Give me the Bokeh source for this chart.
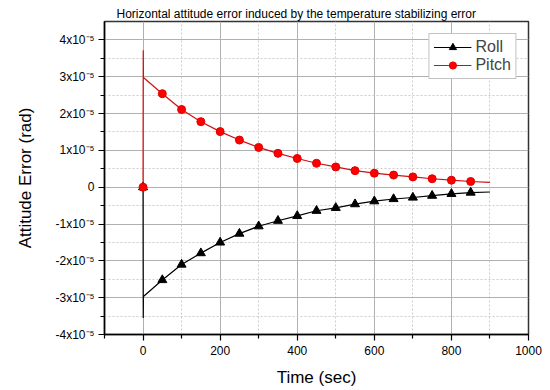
from bokeh.plotting import figure
from bokeh.models import FixedTicker, Range1d, Legend, LegendItem
from bokeh.embed import file_html
from bokeh.resources import INLINE

# ---- data (attitude error in units of 1e-5 rad) ----
marker_time = [0, 50, 100, 150, 200, 250, 300, 350, 400, 450, 500, 550, 600, 650, 700, 750, 800, 850]
pitch_markers = [0, 2.54, 2.11, 1.78, 1.51, 1.28, 1.08, 0.92, 0.78, 0.65, 0.55, 0.45, 0.38, 0.33, 0.28, 0.23, 0.19, 0.155]
roll_markers = [0, -2.52, -2.10, -1.79, -1.50, -1.26, -1.06, -0.91, -0.78, -0.64, -0.56, -0.46, -0.38, -0.32, -0.28, -0.23, -0.18, -0.145]

line_time = [0, 0.5, 1] + marker_time[1:] + [900]
pitch_line = [0, 3.72, 2.98] + pitch_markers[1:] + [0.13]
roll_line = [0, -3.55, -2.97] + roll_markers[1:] + [-0.13]

x_major = [0, 200, 400, 600, 800, 1000]
x_minor = [-100, 100, 300, 500, 700, 900]
y_major = [-4, -3, -2, -1, 0, 1, 2, 3, 4]
y_minor = [-3.5, -2.5, -1.5, -0.5, 0.5, 1.5, 2.5, 3.5]
y_labels = {-4: "-4x10\u207b\u2075", -3: "-3x10\u207b\u2075", -2: "-2x10\u207b\u2075",
            -1: "-1x10\u207b\u2075", 0: "0", 1: "1x10\u207b\u2075", 2: "2x10\u207b\u2075",
            3: "3x10\u207b\u2075", 4: "4x10\u207b\u2075"}

FONT = "Liberation Sans"

p = figure(frame_width=424, frame_height=313, min_border_left=104, min_border_right=14,
           min_border_top=21, min_border_bottom=48,
           x_range=Range1d(-100, 1000), y_range=Range1d(-4, 4.5),
           output_backend="svg", toolbar_location=None,
           title="Horizontal attitude error induced by the temperature stabilizing error")

p.title.text_font = FONT
p.title.text_font_size = "12px"
p.title.text_font_style = "normal"
p.title.text_color = "black"
p.title.align = "left"
p.title.offset = 12
p.title.standoff = 2

p.outline_line_color = "#333333"
p.outline_line_width = 1.5
p.background_fill_color = "white"
p.border_fill_color = "white"

# axes
p.xaxis.ticker = FixedTicker(ticks=x_major, minor_ticks=x_minor)
p.yaxis.ticker = FixedTicker(ticks=y_major, minor_ticks=y_minor)
p.yaxis.major_label_overrides = y_labels
for ax in (p.xaxis[0], p.yaxis[0]):
    ax.axis_line_color = "black"
    ax.axis_line_width = 1.5
    ax.major_tick_line_color = "black"
    ax.minor_tick_line_color = "black"
    ax.major_tick_line_width = 1.2
    ax.minor_tick_line_width = 1.2
    ax.major_tick_in = 0
    ax.minor_tick_in = 0
    ax.major_tick_out = 6
    ax.minor_tick_out = 4
    ax.major_label_text_font = FONT
    ax.major_label_text_font_size = "12px"
    ax.major_label_text_color = "black"
    ax.axis_label_text_font = FONT
    ax.axis_label_text_font_size = "17px"
    ax.axis_label_text_font_style = "normal"
    ax.axis_label_text_color = "black"
p.xaxis.axis_label = "Time (sec)"
p.yaxis.axis_label = "Attitude Error (rad)"
p.xaxis.major_label_standoff = 5
p.yaxis.major_label_standoff = 4
p.xaxis.axis_label_standoff = 10
p.yaxis.axis_label_standoff = 18

# grids
for g in (p.xgrid[0], p.ygrid[0]):
    g.grid_line_color = "#b0b0b0"
    g.grid_line_width = 1
    g.minor_grid_line_color = "#cccccc"
    g.minor_grid_line_dash = "2 2"
    g.minor_grid_line_width = 1

# series
roll_l = p.line(line_time, roll_line, line_color="black", line_width=1.2)
roll_m = p.scatter(marker_time, roll_markers, marker="triangle", size=9,
                   fill_color="black", line_color="black")
pitch_l = p.line(line_time, pitch_line, line_color="#d01010", line_width=1.2)
pitch_m = p.scatter(marker_time, pitch_markers, marker="circle", size=8,
                    fill_color="#ff0000", line_color="#e00000")

legend = Legend(items=[LegendItem(label="Roll", renderers=[roll_l, roll_m]),
                       LegendItem(label="Pitch", renderers=[pitch_l, pitch_m])],
                location="top_right")
legend.margin = 12
legend.padding = 4
legend.spacing = 0
legend.glyph_width = 38
legend.glyph_height = 18
legend.label_height = 18
legend.label_standoff = 4
legend.label_text_font = FONT
legend.label_text_font_size = "16px"
legend.border_line_color = "#888888"
legend.border_line_width = 1
legend.background_fill_alpha = 1
p.add_layout(legend)

open("out.html", "w").write(file_html(p, INLINE))
